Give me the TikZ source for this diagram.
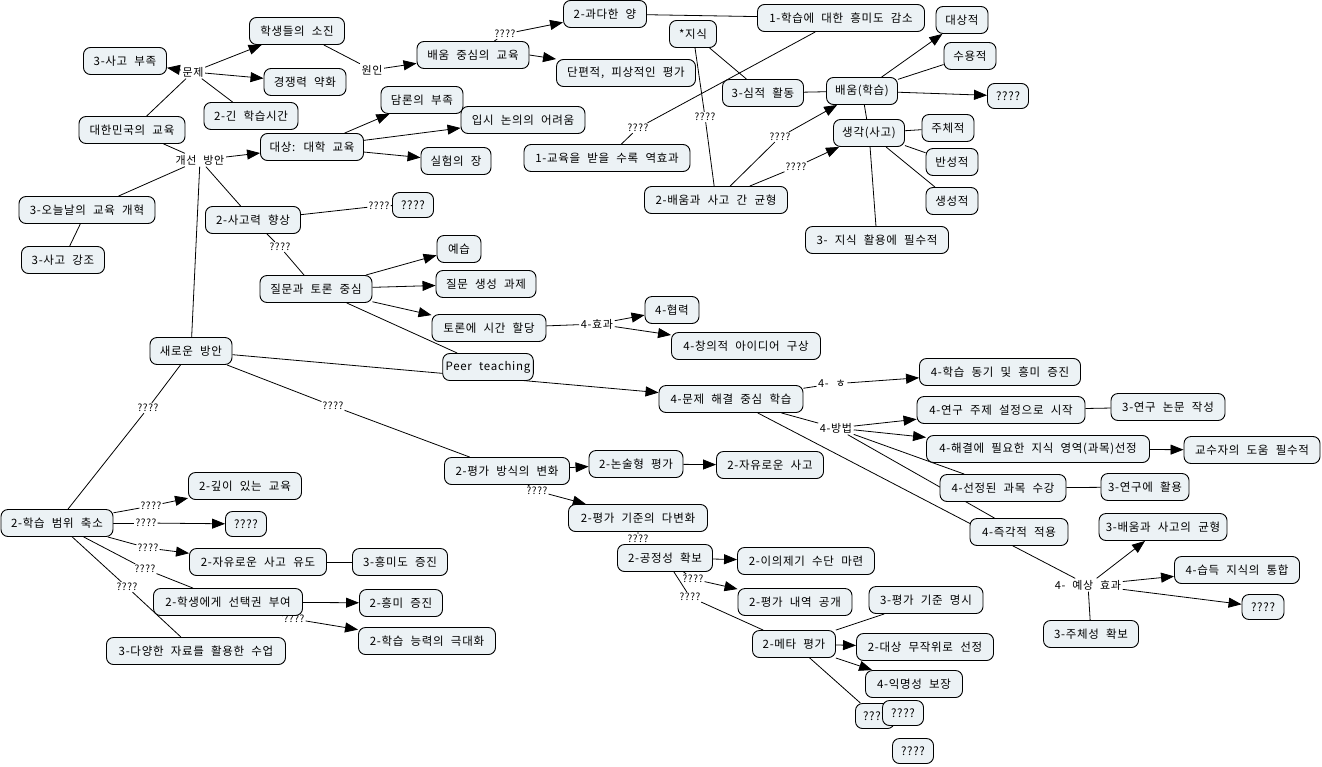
\documentclass[tikz,border=0pt]{standalone}
\usepackage{fontspec}
\setmainfont{Noto Sans CJK KR}[WordSpace=2.2,LetterSpace=6]
\usetikzlibrary{arrows.meta,backgrounds}
\definecolor{boxfill}{RGB}{236,242,245}
\tikzset{
  cbox/.style={draw=black, line width=0.9pt, fill=boxfill, rounded corners=7pt,
    minimum height=27pt, inner xsep=3pt, inner ysep=2pt, font=\fontsize{11.5}{13}\selectfont},
  qbox/.style={cbox, minimum height=25pt},
  lbl/.style={inner sep=1.5pt, font=\fontsize{11}{13}\selectfont},
  qlbl/.style={inner sep=1pt, font=\fontsize{10}{12}\selectfont},
  conn/.style={line width=0.8pt},
  arr/.style={conn, -{Triangle[length=13pt,width=10pt]}},
}
\begin{document}
\begin{tikzpicture}[x=1pt,y=-1pt]
\useasboundingbox (0,0) rectangle (1322,766);
% linking phrases
\node[lbl] (Lmunje) at (193,72) {문제};
\node[lbl] (Lwonin) at (372,70) {원인};
\node[lbl] (Lgaeseon) at (200,160) {개선 방안};
\node[qlbl] (Lq1) at (505,34) {????};
\node[qlbl] (Lq2) at (638,128) {????};
\node[qlbl] (Lq3) at (705,117) {????};
\node[qlbl] (Lq4) at (780,137) {????};
\node[qlbl] (Lq5) at (796,167) {????};
\node[qlbl] (Lq6) at (379,206) {????};
\node[qlbl] (Lq7) at (280,247) {????};
\node[lbl] (Lhyogwa) at (597,324) {4-효과};
\node[lbl] (Lh) at (832,384) {4- ㅎ};
\node[lbl] (Lbangbeop) at (836,428) {4-방법};
\node[lbl] (Lyesang) at (1088,585) {4- 예상 효과};
\node[qlbl] (Lq8) at (148,408) {????};
\node[qlbl] (Lq9) at (333,406) {????};
\node[qlbl] (Lq10) at (537,491) {????};
\node[qlbl] (Lq11) at (638,539) {????};
\node[qlbl] (Lq12) at (693,579) {????};
\node[qlbl] (Lq13) at (690,597) {????};
\node[qlbl] (Lq14) at (151,506) {????};
\node[qlbl] (Lq15) at (146,523) {????};
\node[qlbl] (Lq16) at (148,548) {????};
\node[qlbl] (Lq17) at (145,569) {????};
\node[qlbl] (Lq18) at (127,587) {????};
\node[qlbl] (Lq19) at (294,619) {????};
% concept boxes
\node[cbox, minimum width=95] (n1) at (297,31) {학생들의 소진};
\node[cbox, minimum width=83] (n2) at (125,61) {3-사고 부족};
\node[cbox, minimum width=82] (n3) at (305,82) {경쟁력 약화};
\node[cbox, minimum width=94] (n4) at (251,116) {2-긴 학습시간};
\node[cbox, minimum width=106] (n5) at (132,130) {대한민국의 교육};
\node[cbox, minimum width=103] (n6) at (312,147) {대상: 대학 교육};
\node[cbox, minimum width=82] (n7) at (422,100) {담론의 부족};
\node[cbox, minimum width=124] (n8) at (523,120) {입시 논의의 어려움};
\node[cbox, minimum width=70] (n9) at (456,161) {실험의 장};
\node[cbox, minimum width=112] (n10) at (473,55) {배움 중심의 교육};
\node[cbox, minimum width=83] (n11) at (605,14) {2-과다한 양};
\node[cbox, minimum width=139] (n12) at (626,73) {단편적, 피상적인 평가};
\node[cbox, minimum width=47] (n13) at (693,34) {*지식};
\node[cbox, minimum width=167] (n14) at (841,18) {1-학습에 대한 흥미도 감소};
\node[cbox, minimum width=52] (n15) at (962,20) {대상적};
\node[cbox, minimum width=52] (n16) at (970,56) {수용적};
\node[qbox, minimum width=41] (n17) at (1008,96) {????};
\node[cbox, minimum width=71] (n18) at (862,91) {배움(학습)};
\node[cbox, minimum width=81] (n19) at (763,93) {3-심적 활동};
\node[cbox, minimum width=71] (n20) at (869,133) {생각(사고)};
\node[cbox, minimum width=52] (n21) at (948,128) {주체적};
\node[cbox, minimum width=52] (n22) at (952,162) {반성적};
\node[cbox, minimum width=52] (n23) at (952,201) {생성적};
\node[cbox, minimum width=143] (n24) at (877,240) {3- 지식 활용에 필수적};
\node[cbox, minimum width=143] (n25) at (716,200) {2-배움과 사고 간 균형};
\node[cbox, minimum width=166] (n26) at (607,158) {1-교육을 받을 수록 역효과};
\node[cbox, minimum width=136] (n27) at (87,210) {3-오늘날의 교육 개혁};
\node[cbox, minimum width=83] (n28) at (63,260) {3-사고 강조};
\node[cbox, minimum width=95] (n29) at (253,220) {2-사고력 향상};
\node[qbox, minimum width=41] (n30) at (413,205) {????};
\node[cbox, minimum width=112] (n31) at (316,289) {질문과 토론 중심};
\node[cbox, minimum width=44] (n32) at (459,249) {예습};
\node[cbox, minimum width=100] (n33) at (486,284) {질문 생성 과제};
\node[cbox, minimum width=114] (n34) at (489,328) {토론에 시간 할당};
\node[cbox, minimum width=54] (n35) at (672,310) {4-협력};
\node[cbox, minimum width=149] (n36) at (746,346) {4-창의적 아이디어 구상};
\node[cbox, minimum width=89] (n37) at (488,367) {Peer teaching};
\node[cbox, minimum width=82] (n38) at (191,351) {새로운 방안};
\node[cbox, minimum width=144] (n39) at (731,399) {4-문제 해결 중심 학습};
\node[cbox, minimum width=161] (n40) at (1000,372) {4-학습 동기 및 흥미 증진};
\node[cbox, minimum width=168] (n41) at (1001,410) {4-연구 주제 설정으로 시작};
\node[cbox, minimum width=114] (n42) at (1168,407) {3-연구 논문 작성};
\node[cbox, minimum width=223] (n43) at (1038,449) {4-해결에 필요한 지식 영역(과목)선정};
\node[cbox, minimum width=136] (n44) at (1252,450) {교수자의 도움 필수적};
\node[cbox, minimum width=126] (n45) at (1003,488) {4-선정된 과목 수강};
\node[cbox, minimum width=88] (n46) at (1145,487) {3-연구에 활용};
\node[cbox, minimum width=98] (n47) at (1019,532) {4-즉각적 적용};
\node[cbox, minimum width=128] (n48) at (1163,527) {3-배움과 사고의 균형};
\node[cbox, minimum width=125] (n49) at (1237,570) {4-습득 지식의 통합};
\node[qbox, minimum width=42] (n50) at (1263,607) {????};
\node[cbox, minimum width=95] (n51) at (1091,634) {3-주체성 확보};
\node[cbox, minimum width=125] (n52) at (507,471) {2-평가 방식의 변화};
\node[cbox, minimum width=94] (n53) at (636,464) {2-논술형 평가};
\node[cbox, minimum width=107] (n54) at (770,465) {2-자유로운 사고};
\node[cbox, minimum width=139] (n55) at (638,518) {2-평가 기준의 다변화};
\node[cbox, minimum width=95] (n56) at (665,558) {2-공정성 확보};
\node[cbox, minimum width=137] (n57) at (806,561) {2-이의제기 수단 마련};
\node[cbox, minimum width=114] (n58) at (795,602) {2-평가 내역 공개};
\node[cbox, minimum width=114] (n59) at (926,600) {3-평가 기준 명시};
\node[cbox, minimum width=83] (n60) at (794,644) {2-메타 평가};
\node[cbox, minimum width=137] (n61) at (925,647) {2-대상 무작위로 선정};
\node[cbox, minimum width=97] (n62) at (914,684) {4-익명성 보장};
\node[qbox, minimum width=39] (n63) at (875,716) {????};
\node[qbox, minimum width=41] (n64) at (903,713) {????};
\node[qbox, minimum width=41] (n65) at (913,751) {????};
\node[cbox, minimum width=112] (n66) at (57,523) {2-학습 범위 축소};
\node[cbox, minimum width=113] (n67) at (245,486) {2-깊이 있는 교육};
\node[qbox, minimum width=41] (n68) at (246,524) {????};
\node[cbox, minimum width=137] (n69) at (258,562) {2-자유로운 사고 유도};
\node[cbox, minimum width=95] (n70) at (400,562) {3-흥미도 증진};
\node[cbox, minimum width=149] (n71) at (228,602) {2-학생에게 선택권 부여};
\node[cbox, minimum width=83] (n72) at (401,603) {2-흥미 증진};
\node[cbox, minimum width=137] (n73) at (427,641) {2-학습 능력의 극대화};
\node[cbox, minimum width=179] (n74) at (196,651) {3-다양한 자료를 활용한 수업};
% connectors
\begin{scope}[on background layer]
\fill[white] (0,0) rectangle (1322,766);
\draw[conn] (n5) -- (Lmunje);
\draw[arr] (Lmunje) -- (n2);
\draw[arr] (Lmunje) -- (n1);
\draw[arr] (Lmunje) -- (n3);
\draw[conn] (Lmunje) -- (n4);
\draw[conn] (n1) -- (Lwonin);
\draw[arr] (Lwonin) -- (n10);
\draw[conn] (n10) -- (Lq1);
\draw[arr] (Lq1) -- (n11);
\draw[arr] (n10.east) -- (n12.north west);
\draw[conn] (n11) -- (n14);
\draw[conn] (n14) -- (Lq2) -- (n26);
\draw[conn] (n13) -- (n19);
\draw[conn] (n13) -- (Lq3) -- (n25);
\draw[conn] (n19) -- (n18);
\draw[conn] (n25) -- (Lq4);
\draw[arr] (Lq4) -- (n18);
\draw[conn] (n25) -- (Lq5);
\draw[arr] (Lq5) -- (n20);
\draw[arr] (n18) -- (n15);
\draw[conn] (n18) -- (n16);
\draw[arr] (n18) -- (n17);
\draw[conn] (n18) -- (n20);
\draw[conn] (n20) -- (n21);
\draw[conn] (n20) -- (n22);
\draw[conn] (n20) -- (n23);
\draw[conn] (n20) -- (n24);
\draw[conn] (n5) -- (Lgaeseon);
\draw[arr] (Lgaeseon) -- (n6);
\draw[conn] (Lgaeseon) -- (n27);
\draw[conn] (Lgaeseon) -- (n38);
\draw[conn] (Lgaeseon) -- (n29);
\draw[arr] (n6) -- (n7);
\draw[arr] (n6) -- (n8);
\draw[arr] (n6) -- (n9);
\draw[conn] (n27) -- (n28);
\draw[conn] (n29) -- (Lq6) -- (n30);
\draw[conn] (n29) -- (Lq7) -- (n31);
\draw[arr] (n31) -- (n32);
\draw[arr] (n31) -- (n33);
\draw[arr] (n31) -- (n34);
\draw[conn] (n31) -- (n37);
\draw[conn] (n34) -- (Lhyogwa);
\draw[arr] (Lhyogwa) -- (n35);
\draw[arr] (Lhyogwa) -- (n36);
\draw[arr] (n38) -- (n39);
\draw[conn] (n39) -- (Lh);
\draw[arr] (Lh) -- (n40);
\draw[conn] (n39) -- (Lbangbeop);
\draw[arr] (Lbangbeop) -- (n41);
\draw[arr] (Lbangbeop) -- (n43);
\draw[conn] (Lbangbeop) -- (n45);
\draw[conn] (Lbangbeop) -- (n47);
\draw[conn] (n39) -- (Lyesang);
\draw[conn] (n41) -- (n42);
\draw[arr] (n43) -- (n44);
\draw[conn] (n45) -- (n46);
\draw[arr] (Lyesang) -- (n48);
\draw[arr] (Lyesang) -- (n49);
\draw[arr] (Lyesang) -- (n50);
\draw[conn] (Lyesang) -- (n51);
\draw[conn] (n38) -- (Lq8) -- (n66);
\draw[conn] (n38) -- (Lq9) -- (n52);
\draw[arr] (n52) -- (n53);
\draw[arr] (n53) -- (n54);
\draw[conn] (n52) -- (Lq10);
\draw[arr] (Lq10) -- (n55);
\draw[conn] (n55) -- (Lq11) -- (n56);
\draw[arr] (n56) -- (n57);
\draw[conn] (n56) -- (Lq12);
\draw[arr] (Lq12) -- (n58);
\draw[conn] (n56) -- (Lq13) -- (n60);
\draw[conn] (n60) -- (n59);
\draw[arr] (n60) -- (n61);
\draw[arr] (n60) -- (n62);
\draw[conn] (n60) -- (n63);
\draw[conn] (n66) -- (Lq14);
\draw[arr] (Lq14) -- (n67);
\draw[conn] (n66) -- (Lq15);
\draw[arr] (Lq15) -- (n68);
\draw[conn] (n66) -- (Lq16);
\draw[arr] (Lq16) -- (n69);
\draw[conn] (n66) -- (Lq17) -- (n71);
\draw[conn] (n66) -- (Lq18) -- (n74);
\draw[conn] (n69) -- (n70);
\draw[arr] (n71) -- (n72);
\draw[conn] (n71) -- (Lq19);
\draw[arr] (Lq19) -- (n73);
\end{scope}
\end{tikzpicture}
\end{document}
